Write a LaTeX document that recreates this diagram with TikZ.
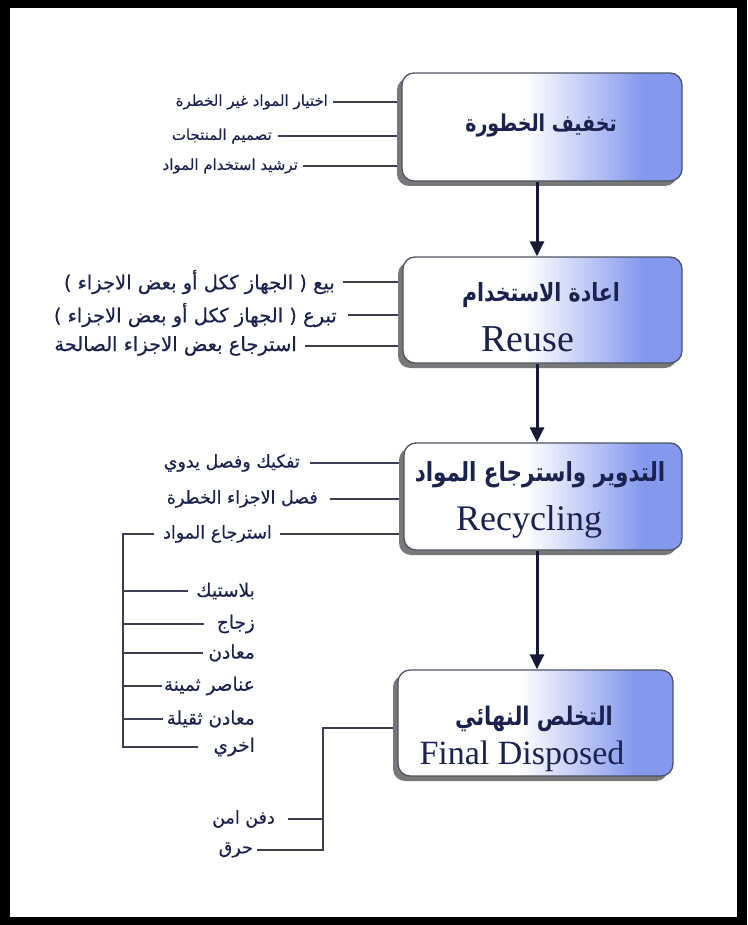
\documentclass[tikz,border=0pt]{standalone}
\usepackage{fontspec}
\usepackage{graphicx}
\usetikzlibrary{arrows.meta,shadows}
\TeXXeTstate=1
\setmainfont{Liberation Serif}
\newfontfamily\arabicfont[Script=Arabic]{DejaVu Sans}
\newfontfamily\arabiclabel[Script=Arabic,FakeBold=0.4]{DejaVu Sans}

\definecolor{ink}{RGB}{28,34,80}
\definecolor{boxblue}{RGB}{132,152,238}
\definecolor{boxedge}{RGB}{76,84,100}
\definecolor{wire}{RGB}{58,62,82}
\definecolor{arrowink}{RGB}{22,26,52}

% white on the left half, fading into blue towards the right edge
\pgfdeclarehorizontalshading{boxfade}{100bp}{color(0bp)=(white); color(47bp)=(white); color(68bp)=(boxblue); color(100bp)=(boxblue)}

\newcommand\arsize[1]{\arabicfont\fontsize{#1}{#1}\selectfont}
\newcommand\labsize[1]{\arabiclabel\fontsize{#1}{#1}\selectfont}
% box headings: bold Arabic, set a little taller than the font's own shape
\newcommand\heading[1]{\scalebox{1}[1.22]{\beginR #1\endR}}

\tikzset{
  stage/.style={draw=boxedge, line width=1.3pt, rounded corners=12pt,
    shading=boxfade, inner sep=0pt,
    drop shadow={shadow xshift=-5pt, shadow yshift=-5pt, fill=black!70, opacity=0.75}},
  titletext/.style={text=ink, inner sep=0pt},
  engtext/.style={text=ink, inner sep=0pt},
  lab/.style={text=ink, inner sep=0pt, anchor=east},
  labA/.style={lab, font=\labsize{15}},
  labB/.style={lab, font=\labsize{19.5}},
  labC/.style={lab, font=\labsize{17.5}},
  sublab/.style={lab, font=\labsize{18.5}},
  finlab/.style={lab, font=\labsize{17.5}},
  wireline/.style={draw=wire, line width=1.2pt},
  flow/.style={draw=arrowink, line width=3pt, -{Triangle[length=15pt,width=14pt]}},
}

\begin{document}
\begin{tikzpicture}[x=1pt,y=-1pt]
  % frame
  \fill[black] (0,0) rectangle (747,925);
  \fill[white] (10,8) rectangle (737,917);
  \useasboundingbox (0,0) rectangle (747,925);

  % stage boxes
  \node[stage, minimum width=280pt, minimum height=108pt] (b1) at (542,127) {};
  \node[stage, minimum width=279pt, minimum height=106pt] (b2) at (542.5,310) {};
  \node[stage, minimum width=278pt, minimum height=107pt] (b3) at (543,496.5) {};
  \node[stage, minimum width=275pt, minimum height=106pt] (b4) at (535.5,723) {};

  % box titles
  \node[titletext, font=\arsize{19}\bfseries] (t1) at (541,126) {\heading{تخفيف الخطورة}};
  \node[titletext, font=\arsize{20.5}\bfseries] (t2) at (541,295) {\heading{اعادة الاستخدام}};
  \node[engtext, font=\fontsize{38}{40}\selectfont] (e2) at (528,339) {Reuse};
  \node[titletext, font=\arsize{21.5}\bfseries] (t3) at (540,475) {\heading{التدوير واسترجاع المواد}};
  \node[engtext, font=\fontsize{36}{38}\selectfont] (e3) at (529,522) {Recycling};
  \node[titletext, font=\arsize{21}\bfseries] (t4) at (534,719) {\heading{التخلص النهائي}};
  \node[engtext, font=\fontsize{34}{36}\selectfont] (e4) at (522,756) {Final Disposed};

  % arrows between stages
  \coordinate (ax) at (537,0);
  \draw[flow] (b1.south -| ax) -- (b2.north -| ax);
  \draw[flow] (b2.south -| ax) -- (b3.north -| ax);
  \draw[flow] (b3.south -| ax) -- (b4.north -| ax);

  % labels of the first stage
  \node[labA] (l1a) at (328,102) {\beginR اختيار المواد غير الخطرة\endR};
  \node[labA] (l1b) at (272,136) {\beginR تصميم المنتجات\endR};
  \node[labA] (l1c) at (298,166) {\beginR ترشيد استخدام المواد\endR};
  \draw[wireline] ([xshift=5pt]l1a.east) -- ([xshift=-4pt]l1a.east -| b1.west);
  \draw[wireline] ([xshift=6pt]l1b.east) -- ([xshift=-4pt]l1b.east -| b1.west);
  \draw[wireline] ([xshift=5pt]l1c.east) -- ([xshift=-4pt]l1c.east -| b1.west);

  % labels of the second stage
  \node[labB] (l2a) at (335,282) {\beginR بيع ( الجهاز ككل أو بعض الاجزاء )\endR};
  \node[labB] (l2b) at (337,315) {\beginR تبرع ( الجهاز ككل أو بعض الاجزاء )\endR};
  \node[labB] (l2c) at (297,346) {\beginR استرجاع بعض الاجزاء الصالحة\endR};
  \draw[wireline] ([xshift=8pt]l2a.east) -- ([xshift=-4pt]l2a.east -| b2.west);
  \draw[wireline] ([xshift=11pt]l2b.east) -- ([xshift=-4pt]l2b.east -| b2.west);
  \draw[wireline] ([xshift=8pt]l2c.east) -- ([xshift=-4pt]l2c.east -| b2.west);

  % labels of the third stage
  \node[labC] (l3a) at (300,463) {\beginR تفكيك وفصل يدوي\endR};
  \node[labC] (l3b) at (318,499) {\beginR فصل الاجزاء الخطرة\endR};
  \node[labC] (l3c) at (272,534) {\beginR استرجاع المواد\endR};
  \draw[wireline] ([xshift=10pt]l3a.east) -- ([xshift=-4pt]l3a.east -| b3.west);
  \draw[wireline] ([xshift=12pt]l3b.east) -- ([xshift=-4pt]l3b.east -| b3.west);
  \draw[wireline] ([xshift=8pt]l3c.east) -- ([xshift=-4pt]l3c.east -| b3.west);

  % recovered materials
  \coordinate (rail) at (123,0);
  \node[sublab] (s1) at (255,591) {\beginR بلاستيك\endR};
  \node[sublab] (s2) at (255,624) {\beginR زجاج\endR};
  \node[sublab] (s3) at (255,653) {\beginR معادن\endR};
  \node[sublab] (s4) at (255,686) {\beginR عناصر ثمينة\endR};
  \node[sublab] (s5) at (255,719) {\beginR معادن ثقيلة\endR};
  \node[sublab] (s6) at (255,747) {\beginR اخري\endR};
  \draw[wireline] ([xshift=-9pt]l3c.west) -- (l3c.west -| rail) -- (rail |- s6) -- ([xshift=-15pt]s6.west);
  \draw[wireline] (rail |- s1) -- ([xshift=-8pt]s1.west);
  \draw[wireline] (rail |- s2) -- ([xshift=-13pt]s2.west);
  \draw[wireline] (rail |- s3) -- ([xshift=-5pt]s3.west);
  \draw[wireline] (rail |- s4) -- ([xshift=-2pt]s4.west);
  \draw[wireline] (rail |- s5) -- ([xshift=-3pt]s5.west);

  % final disposal options
  \coordinate (fork) at (323,728);
  \node[finlab] (f1) at (275,819) {\beginR دفن امن\endR};
  \node[finlab] (f2) at (253,850) {\beginR حرق\endR};
  \draw[wireline] ([xshift=-4pt]b4.west |- fork) -- (fork) -- (fork |- f2) -- ([xshift=4pt]f2.east);
  \draw[wireline] (fork |- f1) -- ([xshift=13pt]f1.east);
\end{tikzpicture}
\end{document}
